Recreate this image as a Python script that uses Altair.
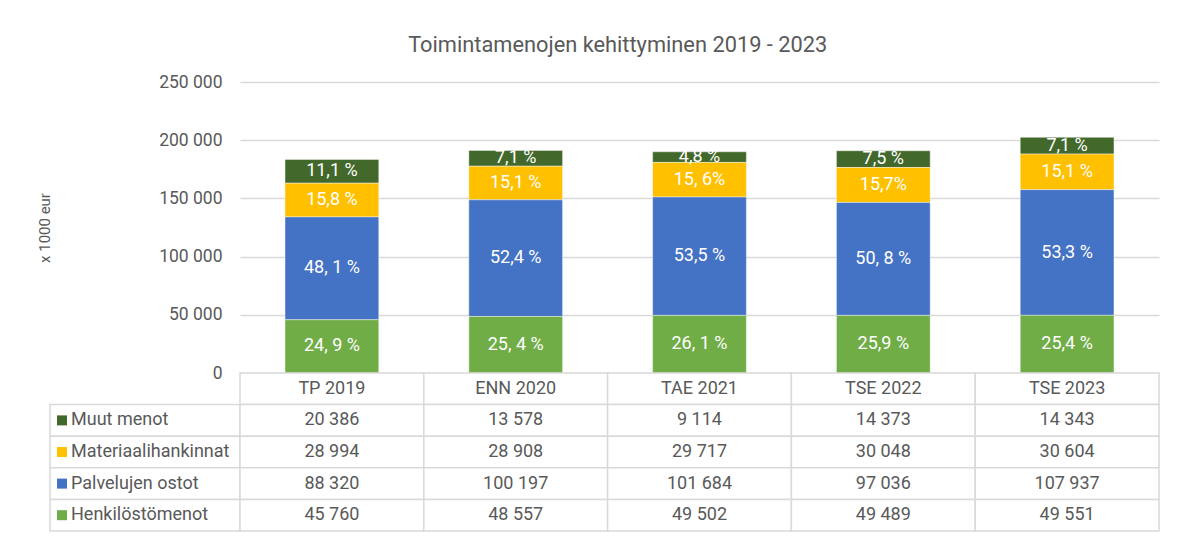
import altair as alt
import pandas as pd

categories = ["TP 2019", "ENN 2020", "TAE 2021", "TSE 2022", "TSE 2023"]
series = ["Muut menot", "Materiaalihankinnat", "Palvelujen ostot", "Henkilöstömenot"]
colors = ["#43682b", "#ffc000", "#4472c4", "#70ad47"]

muut = [20386, 13578, 9114, 14373, 14343]
materiaali = [28994, 28908, 29717, 30048, 30604]
palvelut = [88320, 100197, 101684, 97036, 107937]
henkilosto = [45760, 48557, 49502, 49489, 49551]

pct_muut = ["11,1 %", "7,1 %", "4,8 %", "7,5 %", "7,1 %"]
pct_materiaali = ["15,8 %", "15,1 %", "15, 6%", "15,7%", "15,1 %"]
pct_palvelut = ["48, 1 %", "52,4 %", "53,5 %", "50, 8 %", "53,3 %"]
pct_henkilosto = ["24, 9 %", "25, 4 %", "26, 1 %", "25,9 %", "25,4 %"]

y_ticks = [0, 50000, 100000, 150000, 200000, 250000]

FONT = "Roboto"
GREY = "#595959"
LINE = "#d9d9d9"

values_by_series = [muut, materiaali, palvelut, henkilosto]
pct_by_series = [pct_muut, pct_materiaali, pct_palvelut, pct_henkilosto]

rows = []
for si, s in enumerate(series):
    for ci, c in enumerate(categories):
        v = values_by_series[si][ci]
        rows.append({
            "cat": c,
            "series": s,
            "value": v,
            "pct": pct_by_series[si][ci],
            "stack_order": len(series) - 1 - si,
            "txt": f"{v:,}".replace(",", " "),
        })
df = pd.DataFrame(rows)

HDR = " "
row_domain = [HDR] + series

# ---------- bar chart ----------
x_bar = alt.X("cat:N", sort=categories, axis=None,
              scale=alt.Scale(domain=categories, paddingInner=0.49, paddingOuter=0.245))

bars = alt.Chart(df).mark_bar(stroke="#ffffff", strokeWidth=0.6, strokeOpacity=0.7).encode(
    x=x_bar,
    y=alt.Y("value:Q", stack="zero",
            scale=alt.Scale(domain=[0, 250000]),
            axis=alt.Axis(values=y_ticks, title="x 1000 eur",
                          labelExpr="join(split(format(datum.value, ','), ','), ' ')",
                          grid=True, gridColor=LINE, gridWidth=1.5,
                          domain=False, ticks=False, labelPadding=18,
                          labelFontSize=17.5, labelColor=GREY, labelFont=FONT,
                          titleFontSize=15, titleColor=GREY, titleFont=FONT,
                          titleFontWeight="normal", titlePadding=106)),
    color=alt.Color("series:N", scale=alt.Scale(domain=series, range=colors), legend=None),
    order=alt.Order("stack_order:Q"),
)

pct_labels = alt.Chart(df).transform_stack(
    stack="value", groupby=["cat"], sort=[alt.SortField("stack_order")], as_=["v0", "v1"]
).transform_calculate(mid="(datum.v0 + datum.v1) / 2").mark_text(
    color="white", fontSize=18, font=FONT
).encode(
    x=x_bar,
    y=alt.Y("mid:Q", scale=alt.Scale(domain=[0, 250000])),
    text="pct:N",
)

bar_chart = alt.layer(bars, pct_labels).properties(width=919, height=291)

spacer = alt.Chart(pd.DataFrame({"a": [0]})).mark_point(opacity=0).properties(width=190, height=291)

# ---------- data table ----------
y_tab = alt.Y("row:N", sort=row_domain, axis=None,
              scale=alt.Scale(domain=row_domain, paddingInner=0, paddingOuter=0))

lab_df = pd.DataFrame({"col": ["lbl"] * len(series), "row": series, "series": series})
x_lab = alt.X("col:N", axis=None, scale=alt.Scale(domain=["lbl"], paddingInner=0, paddingOuter=0))

lab_cells = alt.Chart(lab_df).mark_rect(fill="white", stroke=LINE, strokeWidth=1.5).encode(
    x=x_lab, y=y_tab)
lab_sq = alt.Chart(lab_df).mark_square(size=100, opacity=1).encode(
    y=y_tab, x=alt.value(12),
    color=alt.Color("series:N", scale=alt.Scale(domain=series, range=colors), legend=None),
)
lab_txt = alt.Chart(lab_df).mark_text(align="left", fontSize=18, color=GREY, font=FONT).encode(
    y=y_tab, x=alt.value(21), text="series:N"
)
label_col = alt.layer(lab_cells, lab_sq, lab_txt).properties(width=190, height=158)

tab_rows = [{"cat": c, "row": HDR, "txt": c} for c in categories]
for r in rows:
    tab_rows.append({"cat": r["cat"], "row": r["series"], "txt": r["txt"]})
tab_df = pd.DataFrame(tab_rows)

x_tab = alt.X("cat:N", sort=categories, axis=None,
              scale=alt.Scale(domain=categories, paddingInner=0, paddingOuter=0))

tab_cells = alt.Chart(tab_df).mark_rect(fill="white", stroke=LINE, strokeWidth=1.5).encode(x=x_tab, y=y_tab)
tab_txt = alt.Chart(tab_df).mark_text(fontSize=18, color=GREY, font=FONT).encode(
    x=x_tab, y=y_tab, text="txt:N"
)
value_tab = alt.layer(tab_cells, tab_txt).properties(width=919, height=158)

chart = alt.concat(spacer, bar_chart, label_col, value_tab,
                   columns=2, spacing=0, bounds="flush").properties(
    title=alt.TitleParams("Toimintamenojen kehittyminen 2019 - 2023", fontSize=21.8,
                          color=GREY, font=FONT, fontWeight="normal", anchor="middle",
                          dx=19, offset=16),
    padding={"top": 27, "left": 29, "right": 10, "bottom": 0},
).configure(font=FONT, view=alt.ViewConfig(stroke=None))

chart.save("out.html", embed_options={"renderer": "svg", "actions": False})
